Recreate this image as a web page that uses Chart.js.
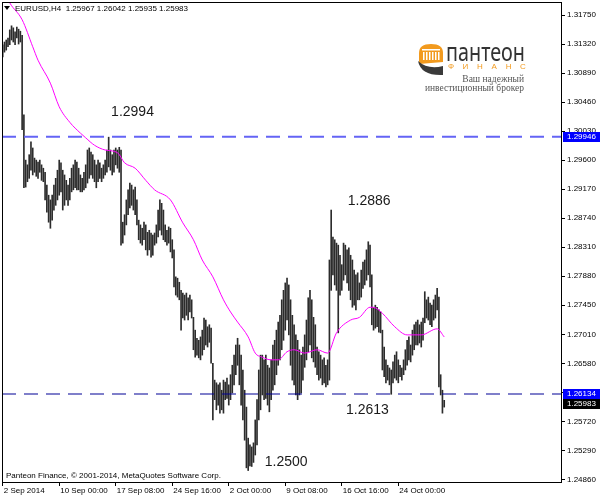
<!DOCTYPE html>
<html>
<head>
<meta charset="utf-8">
<script src="https://cdn.jsdelivr.net/npm/chart.js@4.4.0/dist/chart.umd.min.js"></script>
<style>
  html, body { margin: 0; padding: 0; background: #fff; }
</style>
</head>
<body>
<canvas id="grafico" width="600" height="499"></canvas>
<script>
// EURUSD H4 bars (index = bar number from the left)
const barHigh = [
  1.3131,1.3135,1.3138,1.3141,1.3153,1.3159,1.3156,1.3150,1.3157,1.3154,1.3151,
  1.3145,1.3027,1.2960,1.2953,1.2968,1.2987,1.2978,1.2963,1.2960,1.2957,
  1.2960,1.2953,1.2948,1.2942,1.2923,1.2908,1.2901,1.2908,1.2923,1.2933,
  1.2945,1.2960,1.2956,1.2945,1.2938,1.2930,1.2923,1.2933,1.2948,1.2953,
  1.2960,1.2957,1.2948,1.2938,1.2933,1.2942,1.2953,1.2975,1.2978,1.2972,
  1.2968,1.2960,1.2953,1.2960,1.2956,1.2948,1.2953,1.2960,1.2975,1.2994,
  1.2975,1.2968,1.2975,1.2978,1.2975,1.2979,1.2975,1.2868,1.2879,1.2901,
  1.2916,1.2926,1.2923,1.2916,1.2920,1.2901,1.2871,1.2864,1.2859,1.2868,
  1.2864,1.2853,1.2856,1.2852,1.2849,1.2852,1.2864,1.2886,1.2901,1.2896,
  1.2886,1.2864,1.2856,1.2861,1.2859,1.2842,1.2827,1.2787,1.2785,1.2779,
  1.2767,1.2763,1.2760,1.2763,1.2756,1.2760,1.2753,1.2727,1.2708,1.2696,
  1.2693,1.2698,1.2708,1.2726,1.2723,1.2713,1.2716,1.2711,1.2659,1.2634,
  1.2630,1.2627,1.2630,1.2619,1.2634,1.2631,1.2637,1.2627,1.2642,1.2656,
  1.2671,1.2686,1.2696,1.2686,1.2671,1.2649,1.2619,1.2594,1.2548,1.2538,
  1.2535,1.2541,1.2575,1.2605,1.2649,1.2671,1.2671,1.2664,1.2671,1.2656,
  1.2652,1.2664,1.2686,1.2693,1.2708,1.2720,1.2730,1.2753,1.2767,1.2778,
  1.2785,1.2775,1.2753,1.2730,1.2716,1.2701,1.2693,1.2679,1.2671,1.2683,
  1.2701,1.2723,1.2756,1.2767,1.2753,1.2727,1.2716,1.2683,1.2676,1.2671,
  1.2664,1.2667,1.2656,1.2664,1.2812,1.2886,1.2846,1.2842,1.2837,1.2834,
  1.2819,1.2805,1.2837,1.2834,1.2827,1.2830,1.2819,1.2812,1.2797,1.2790,
  1.2793,1.2778,1.2797,1.2809,1.2812,1.2827,1.2839,1.2834,1.2790,1.2742,
  1.2745,1.2742,1.2738,1.2735,1.2708,1.2683,1.2664,1.2656,1.2652,1.2649,
  1.2661,1.2671,1.2676,1.2664,1.2656,1.2652,1.2664,1.2679,1.2693,1.2698,
  1.2686,1.2708,1.2716,1.2720,1.2723,1.2716,1.2720,1.2726,1.2765,1.2753,
  1.2757,1.2748,1.2745,1.2753,1.2760,1.2770,1.2757,1.2642,1.2619,1.2604
];
const barLow = [
  1.3113,1.3120,1.3123,1.3128,1.3131,1.3138,1.3135,1.3131,1.3141,1.3132,1.3135,
  1.3005,1.2919,1.2920,1.2928,1.2933,1.2945,1.2938,1.2942,1.2936,1.2933,
  1.2942,1.2930,1.2928,1.2901,1.2883,1.2868,1.2859,1.2871,1.2886,1.2893,
  1.2901,1.2908,1.2913,1.2886,1.2893,1.2901,1.2893,1.2901,1.2913,1.2916,
  1.2919,1.2916,1.2916,1.2913,1.2913,1.2916,1.2919,1.2926,1.2933,1.2938,
  1.2933,1.2928,1.2919,1.2928,1.2933,1.2928,1.2933,1.2938,1.2942,1.2950,
  1.2945,1.2938,1.2942,1.2953,1.2948,1.2942,1.2834,1.2837,1.2849,1.2864,
  1.2879,1.2889,1.2893,1.2886,1.2879,1.2864,1.2842,1.2837,1.2834,1.2842,
  1.2827,1.2819,1.2827,1.2816,1.2819,1.2834,1.2837,1.2846,1.2856,1.2849,
  1.2842,1.2839,1.2834,1.2837,1.2824,1.2815,1.2772,1.2760,1.2757,1.2753,
  1.2708,1.2726,1.2723,1.2730,1.2723,1.2735,1.2726,1.2679,1.2668,1.2671,
  1.2667,1.2664,1.2671,1.2679,1.2686,1.2683,1.2690,1.2659,1.2575,1.2605,
  1.2590,1.2597,1.2585,1.2590,1.2585,1.2605,1.2607,1.2597,1.2605,1.2615,
  1.2627,1.2642,1.2656,1.2627,1.2597,1.2575,1.2545,1.2504,1.2500,1.2507,
  1.2506,1.2512,1.2523,1.2538,1.2575,1.2590,1.2612,1.2605,1.2607,1.2597,
  1.2587,1.2605,1.2619,1.2627,1.2642,1.2656,1.2664,1.2679,1.2693,1.2708,
  1.2723,1.2701,1.2656,1.2634,1.2627,1.2612,1.2605,1.2612,1.2615,1.2634,
  1.2653,1.2664,1.2676,1.2686,1.2667,1.2661,1.2653,1.2642,1.2634,1.2637,
  1.2627,1.2630,1.2624,1.2627,1.2634,1.2767,1.2790,1.2775,1.2767,1.2704,
  1.2760,1.2767,1.2782,1.2790,1.2778,1.2767,1.2753,1.2742,1.2745,1.2738,
  1.2753,1.2753,1.2757,1.2770,1.2775,1.2782,1.2790,1.2772,1.2716,1.2708,
  1.2711,1.2713,1.2705,1.2704,1.2649,1.2639,1.2630,1.2634,1.2627,1.2613,
  1.2630,1.2637,1.2634,1.2630,1.2639,1.2634,1.2642,1.2649,1.2656,1.2664,
  1.2661,1.2671,1.2679,1.2686,1.2686,1.2689,1.2683,1.2693,1.2719,1.2726,
  1.2723,1.2716,1.2713,1.2723,1.2726,1.2738,1.2624,1.2612,1.2585,1.2594
];

// moving average (magenta), read at some bars
const maBars = [0,4,11,17,20,27,32,38,44,47,52,58,65,69,75,81,86,95,102,108,113,119,125,129,133,
  139,143,147,152,156,161,165,171,178,184,189,197,202,208,211,215,222,229,237,246,250];
const maValues = [1.3215,1.3193,1.3168,1.3128,1.3108,1.3074,1.3039,1.3016,1.3000,1.2993,
  1.2982,1.2975,1.2971,1.2956,1.2948,1.2930,1.2916,1.2901,1.2867,1.2842,
  1.2812,1.2787,1.2753,1.2735,1.2720,1.2698,1.2674,1.2668,1.2664,1.2664,
  1.2676,1.2679,1.2674,1.2679,1.2674,1.2704,1.2723,1.2727,1.2742,1.2741,
  1.2733,1.2713,1.2701,1.2701,1.2710,1.2698];

// horizontal levels
const levelHigh = 1.29946;
const levelLow = 1.26134;
const lastClose = 1.25983;

// axis labels
const xLabelBars = [0, 32, 64, 96, 128, 160, 192, 224];
const xLabels = ['2 Sep 2014', '10 Sep 00:00', '17 Sep 08:00', '24 Sep 16:00', '2 Oct 00:00', '9 Oct 08:00', '16 Oct 16:00', '24 Oct 00:00'];
const yTicks = [1.24860, 1.25290, 1.25720, 1.26150, 1.26580, 1.27010, 1.27450, 1.27880, 1.28310,
  1.28740, 1.29170, 1.29600, 1.30030, 1.30460, 1.30890, 1.31320, 1.31750];

// price notes written on the chart
const notes = [
  { text: '1.2994', bar: 73.5, price: 1.3031 },
  { text: '1.2886', bar: 207.5, price: 1.2899 },
  { text: '1.2613', bar: 206.5, price: 1.2590 },
  { text: '1.2500', bar: 160.5, price: 1.2513 }
];

const X_MIN = -0.4, X_MAX = 316.7;
const Y_MIN = 1.2483, Y_MAX = 1.31943;
const FONT = 'Liberation Sans';
Chart.defaults.font.family = FONT;

const barData = barHigh.map((h, i) => ({ x: i, y: [barLow[i], h] }));
const maData = maBars.map((b, i) => ({ x: b, y: maValues[i] }));

//moldura, textos, caixas de preço e logótipo
const extras = {
  id: 'extras',
  afterDraw(chart) {
    const ctx = chart.ctx;
    const a = chart.chartArea;
    const xs = chart.scales.x, ys = chart.scales.y;
    ctx.save();

    // frame
    ctx.strokeStyle = '#000';
    ctx.lineWidth = 1;
    ctx.strokeRect(a.left + 0.5, a.top + 0.5, a.right - a.left - 1, a.bottom - a.top);

    // price boxes on the axis
    const boxes = [
      { v: levelHigh, bg: '#0000ff' },
      { v: levelLow, bg: '#0000ff' },
      { v: lastClose, bg: '#000000' }
    ];
    ctx.font = '8px ' + FONT;
    ctx.textBaseline = 'middle';
    ctx.textAlign = 'left';
    boxes.forEach(b => {
      const y = ys.getPixelForValue(b.v);
      ctx.fillStyle = b.bg;
      ctx.fillRect(a.right + 1, Math.round(y) - 5, 38, 10);
      ctx.fillStyle = '#fff';
      ctx.fillText(b.v.toFixed(5), a.right + 5, Math.round(y));
    });

    // notes
    ctx.fillStyle = '#1a1a1a';
    ctx.font = '14px ' + FONT;
    ctx.textAlign = 'center';
    notes.forEach(n => {
      ctx.fillText(n.text, xs.getPixelForValue(n.bar), ys.getPixelForValue(n.price));
    });

    // header
    ctx.fillStyle = '#000';
    ctx.beginPath();
    ctx.moveTo(4, 6); ctx.lineTo(10, 6); ctx.lineTo(7, 10); ctx.closePath(); ctx.fill();
    ctx.font = '8px ' + FONT;
    ctx.textAlign = 'left';
    ctx.fillText('EURUSD,H4  1.25967 1.26042 1.25935 1.25983', 15, 9);
    ctx.fillText('Panteon Finance, \u00a9 2001-2014, MetaQuotes Software Corp.', 6, 475.5);

    // logo
    ctx.fillStyle = '#f29a1e';
    ctx.beginPath();
    ctx.moveTo(419, 64); ctx.lineTo(419, 53);
    ctx.quadraticCurveTo(419, 44, 431, 44);
    ctx.quadraticCurveTo(443, 44, 443, 53);
    ctx.lineTo(443, 62); ctx.closePath(); ctx.fill();
    ctx.fillStyle = '#fff';
    ctx.fillRect(422, 49, 18, 1.5);
    for (let cx = 423; cx <= 438; cx += 3) ctx.fillRect(cx, 52, 1.5, 8);
    ctx.fillStyle = '#3a3a3a';
    ctx.beginPath();
    ctx.moveTo(418, 61);
    ctx.quadraticCurveTo(421, 76, 443, 75);
    ctx.lineTo(443, 66);
    ctx.quadraticCurveTo(428, 70, 418, 61);
    ctx.closePath(); ctx.fill();

    ctx.fillStyle = '#333';
    ctx.font = '26px "Noto Sans"';
    ctx.textBaseline = 'alphabetic';
    const w = ctx.measureText('пантеон').width;
    ctx.save();
    ctx.translate(446, 61);
    ctx.scale(79 / w, 1);
    ctx.fillText('пантеон', 0, 0);
    ctx.restore();

    ctx.fillStyle = '#f29a1e';
    ctx.font = '8px ' + FONT;
    ctx.textAlign = 'center';
    ctx.textBaseline = 'middle';
    'ФИНАНС'.split('').forEach((ch, i) => ctx.fillText(ch, 451 + i * 14.4, 67));

    ctx.fillStyle = '#555';
    ctx.font = '9.5px "Liberation Serif"';
    ctx.textAlign = 'right';
    ctx.fillText('Ваш надежный', 524, 79);
    ctx.fillText('инвестиционный брокер', 524, 88);

    ctx.restore();
  }
};

new Chart(document.getElementById('grafico').getContext('2d'), {
  type: 'bar',
  data: {
    datasets: [
      {
        type: 'line',
        data: maData,
        borderColor: '#ff00ff',
        borderWidth: 1,
        pointRadius: 0,
        fill: false,
        cubicInterpolationMode: 'monotone'
      },
      {
        type: 'line',
        data: [{ x: X_MIN, y: levelHigh }, { x: X_MAX, y: levelHigh }],
        borderColor: '#6464f5',
        borderWidth: 2,
        borderDash: [14, 8],
        pointRadius: 0,
        fill: false
      },
      {
        type: 'line',
        data: [{ x: X_MIN, y: levelLow }, { x: X_MAX, y: levelLow }],
        borderColor: '#000096',
        borderWidth: 1.2,
        borderDash: [14, 8],
        pointRadius: 0,
        fill: false
      },
      {
        type: 'bar',
        data: barData,
        backgroundColor: '#2c2c2c',
        borderWidth: 0,
        barThickness: 1,
        grouped: false
      }
    ]
  },
  options: {
    responsive: false,
    animation: false,
    devicePixelRatio: 1,
    layout: { padding: { left: 2, top: 2, right: 0, bottom: 0 } },
    plugins: { legend: { display: false }, tooltip: { enabled: false } },
    scales: {
      x: {
        type: 'linear',
        min: X_MIN,
        max: X_MAX,
        offset: false,
        afterBuildTicks: s => { s.ticks = xLabelBars.map(v => ({ value: v })); },
        afterFit: s => { s.height = 17; s.paddingLeft = 0; s.paddingRight = 0; },
        grid: { drawOnChartArea: false, drawTicks: true, tickLength: 4, color: '#000', offset: false },
        border: { display: false },
        ticks: {
          autoSkip: false, maxRotation: 0, minRotation: 0,
          align: 'start', labelOffset: 1, padding: 0,
          color: '#000', font: { size: 8 },
          callback: (v, i) => xLabels[i]
        }
      },
      y: {
        position: 'right',
        min: Y_MIN,
        max: Y_MAX,
        afterBuildTicks: s => { s.ticks = yTicks.map(v => ({ value: v })); },
        afterFit: s => { s.width = 38; s.paddingTop = 0; s.paddingBottom = 0; },
        grid: { drawOnChartArea: false, drawTicks: true, tickLength: 3, color: '#000' },
        border: { display: false },
        ticks: {
          padding: 2, color: '#000', font: { size: 8 },
          callback: v => v.toFixed(5)
        }
      }
    }
  },
  plugins: [extras]
});
</script>
</body>
</html>
